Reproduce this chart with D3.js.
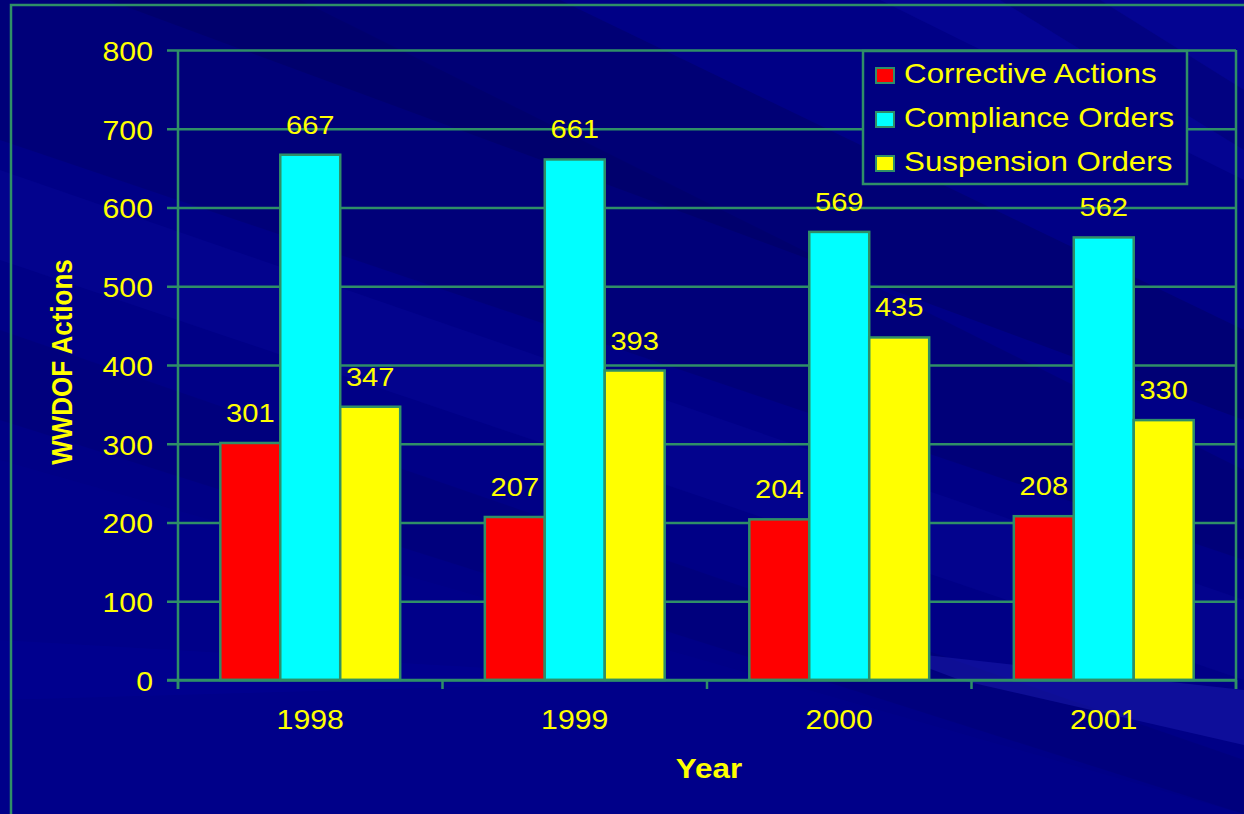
<!DOCTYPE html>
<html>
<head>
<meta charset="utf-8">
<script src="https://cdn.jsdelivr.net/npm/d3@7"></script>
<style>
  html, body { margin: 0; padding: 0; background: #000080; }
  svg { display: block; }
  text { font-family: "Liberation Sans", Arial, sans-serif; fill: #ffff00; }
</style>
</head>
<body>
<svg id="chart" width="1244" height="814"></svg>
<script>
// WWDOF enforcement actions by year
const years = ["1998", "1999", "2000", "2001"];
const seriesNames = ["Corrective Actions", "Compliance Orders", "Suspension Orders"];
const correctiveActions = [301, 207, 204, 208];
const complianceOrders = [667, 661, 569, 562];
const suspensionOrders = [347, 393, 435, 330];
const yTicks = [0, 100, 200, 300, 400, 500, 600, 700, 800];
const seriesColors = ["#ff0000", "#00ffff", "#ffff00"];

const seriesValues = [correctiveActions, complianceOrders, suspensionOrders];
const rows = years.map((yr, i) => ({
  year: yr,
  values: seriesNames.map((s, j) => ({ series: s, value: seriesValues[j][i], color: seriesColors[j] }))
}));

const W = 1244, H = 814;
const green = "#2f8f67";
const sx = 1.12; // slide text is drawn slightly wide

const svg = d3.select("#chart");

// backdrop: navy with soft diagonal bands
svg.append("rect").attr("width", W).attr("height", H).attr("fill", "#000086");
const bands = [
  { pts: [[0,0],[560,0],[1244,330],[1244,420],[0,-40]], fill: "#000064", op: 0.5 },
  { pts: [[0,0],[300,0],[1244,470],[1244,560],[0,140]], fill: "#00005e", op: 0.3 },
  { pts: [[0,170],[1244,600],[1244,680],[0,260]], fill: "#0a0aa0", op: 0.28 },
  { pts: [[0,330],[1244,760],[1244,814],[0,420]], fill: "#00006a", op: 0.3 },
  { pts: [[0,460],[1244,814],[0,814]], fill: "#00008c", op: 0.6 },
  { pts: [[880,0],[1244,0],[1244,180]], fill: "#0c0ca6", op: 0.35 },
  { pts: [[1000,0],[1100,0],[1244,90],[1244,150]], fill: "#00006a", op: 0.4 },
  { pts: [[880,650],[1244,690],[1244,745],[960,680]], fill: "#1e1eb4", op: 0.45 },
  { pts: [[0,640],[700,680],[0,700]], fill: "#00009a", op: 0.3 }
];
svg.append("g").selectAll("polygon").data(bands).join("polygon")
  .attr("points", d => d.pts.map(p => p.join(",")).join(" "))
  .attr("fill", d => d.fill).attr("opacity", d => d.op);

// slide frame
svg.append("rect").attr("x", 11).attr("y", 5).attr("width", 1300).attr("height", 900)
  .attr("fill", "none").attr("stroke", green).attr("stroke-width", 2.5);

// scales
const plot = { left: 178, right: 1236, top: 50, bottom: 680 };
const x0 = d3.scaleBand().domain(years).range([plot.left, plot.right])
  .paddingInner(0.32).paddingOuter(0.16);
const x1 = d3.scaleBand().domain(seriesNames).range([0, x0.bandwidth()]);
const y = d3.scaleLinear().domain([0, 800]).range([plot.bottom, plot.top]);

function stretched(sel, x, yy) {
  return sel.attr("transform", `translate(${x},${yy}) scale(${sx},1)`);
}

// gridlines + y ticks
const yAxis = d3.axisLeft(y).tickValues(yTicks)
  .tickSize(-(plot.right - plot.left)).tickSizeOuter(0).tickFormat(d3.format("d"));
const gy = svg.append("g").attr("transform", `translate(${plot.left},0)`).call(yAxis);
gy.select(".domain").remove();
gy.selectAll(".tick line").attr("stroke", green).attr("stroke-width", 2.5)
  .attr("x1", -11);
gy.selectAll(".tick text").remove();
gy.selectAll(".tick").append("text")
  .attr("text-anchor", "end").attr("dominant-baseline", "central")
  .attr("font-size", 27)
  .each(function(d) { stretched(d3.select(this), -25, 1); })
  .text(d => d);

// plot frame: left axis line and right edge
svg.append("line").attr("x1", plot.left).attr("x2", plot.left)
  .attr("y1", plot.top).attr("y2", plot.bottom + 9)
  .attr("stroke", green).attr("stroke-width", 2.5);
svg.append("line").attr("x1", plot.right).attr("x2", plot.right)
  .attr("y1", plot.top).attr("y2", plot.bottom + 9)
  .attr("stroke", green).attr("stroke-width", 2.5);

// x category boundary ticks
const step = x0.step();
const bounds = d3.range(years.length + 1).map(i => plot.left + i * step);
svg.append("g").selectAll("line").data(bounds).join("line")
  .attr("x1", d => d).attr("x2", d => d)
  .attr("y1", plot.bottom).attr("y2", plot.bottom + 9)
  .attr("stroke", green).attr("stroke-width", 2.5);

// bars
const groups = svg.append("g").selectAll("g").data(rows).join("g")
  .attr("transform", d => `translate(${x0(d.year)},0)`);
groups.selectAll("rect").data(d => d.values).join("rect")
  .attr("x", d => x1(d.series))
  .attr("y", d => y(d.value))
  .attr("width", x1.bandwidth())
  .attr("height", d => y(0) - y(d.value))
  .attr("fill", d => d.color)
  .attr("stroke", green).attr("stroke-width", 2.5);

// value labels
groups.selectAll("text.val").data(d => d.values).join("text")
  .attr("class", "val")
  .attr("text-anchor", "middle")
  .attr("font-size", 26)
  .each(function(d) { stretched(d3.select(this), x1(d.series) + x1.bandwidth() / 2, y(d.value) - 21); })
  .text(d => d.value);

// x axis line drawn over bar bottoms
svg.append("line").attr("x1", plot.left - 11).attr("x2", plot.right)
  .attr("y1", plot.bottom).attr("y2", plot.bottom)
  .attr("stroke", green).attr("stroke-width", 2.5);

// year labels
svg.append("g").selectAll("text").data(years).join("text")
  .attr("text-anchor", "middle").attr("font-size", 27)
  .each(function(d) { stretched(d3.select(this), x0(d) + x0.bandwidth() / 2, 729); })
  .text(d => d);

// axis titles
stretched(svg.append("text"), 709, 778)
  .attr("text-anchor", "middle").attr("font-size", 28).attr("font-weight", "bold")
  .text("Year");
svg.append("text")
  .attr("transform", `translate(72,362) scale(${sx},1) rotate(-90)`)
  .attr("text-anchor", "middle").attr("font-size", 26).attr("font-weight", "bold")
  .text("WWDOF Actions");

// legend
const legend = svg.append("g");
legend.append("rect").attr("x", 863).attr("y", 51).attr("width", 324).attr("height", 133)
  .attr("fill", "#000080").attr("stroke", green).attr("stroke-width", 2.5);
const items = legend.selectAll("g").data(seriesNames).join("g")
  .attr("transform", (d, i) => `translate(0,${83 + i * 44})`);
items.append("rect").attr("x", 876).attr("y", -15).attr("width", 18).attr("height", 15)
  .attr("fill", (d, i) => seriesColors[i]).attr("stroke", green).attr("stroke-width", 2);
items.append("text").attr("font-size", 28)
  .each(function() { stretched(d3.select(this), 904, 0); })
  .text(d => d);
</script>
</body>
</html>
